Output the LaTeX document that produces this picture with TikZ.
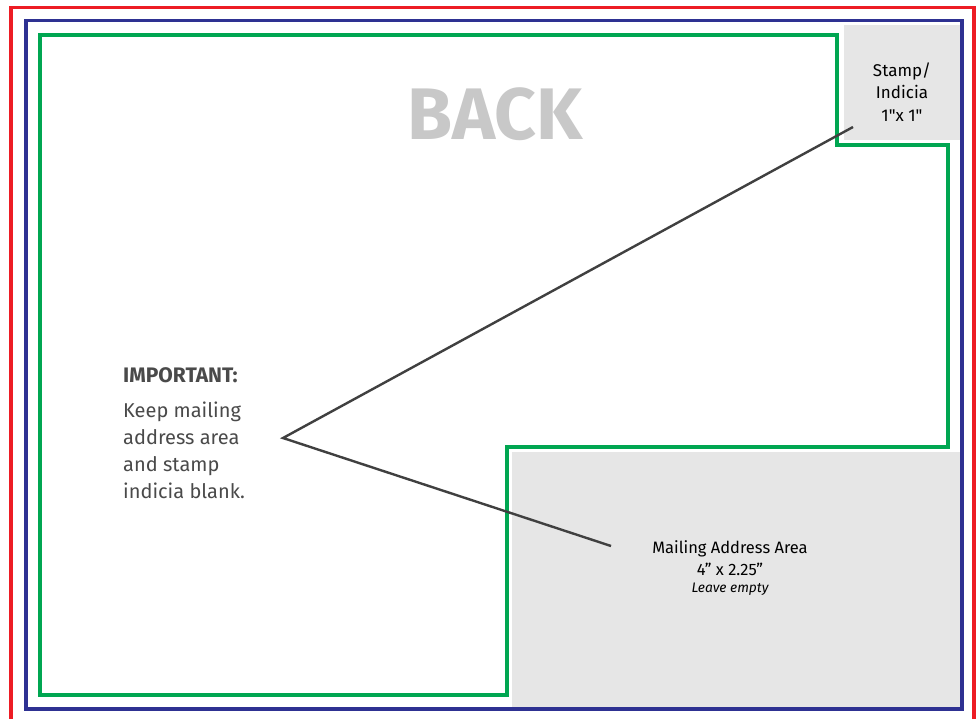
\documentclass[tikz,border=0pt]{standalone}
\usepackage{fontspec}
\setmainfont{Fira Sans}
\definecolor{cutred}{HTML}{ED1C24}
\definecolor{trimblue}{HTML}{2E3192}
\definecolor{safegreen}{HTML}{00A651}
\definecolor{areagray}{HTML}{E6E6E6}
\definecolor{backgray}{HTML}{C8C8C8}
\definecolor{txtgray}{HTML}{4A4A4A}
\definecolor{linegray}{HTML}{404040}
\begin{document}
\begin{tikzpicture}[x=1pt,y=-1pt,
  frame/.style={line width=3.2pt},
  area/.style={fill=areagray,draw=none},
  pointer/.style={draw=linegray,line width=2.4pt},
  label/.style={inner sep=0pt,align=center,text=black}]
\useasboundingbox (0,0) rectangle (979,719);
\fill[white] (0,0) rectangle (979,719);
% grey areas
\path[area] (844,25) rectangle (960,140);
\path[area] (512,452) rectangle (960,708);
% frames
\draw[frame,cutred] (11,725) -- (11,7.5) -- (974,7.5) -- (974,725);
\draw[frame,trimblue] (26,20.5) rectangle (962,709);
\draw[frame,safegreen] (40,35) -- (837,35) -- (837,145) -- (948,145) -- (948,447) -- (507,447) -- (507,695) -- (40,695) -- cycle;
% texts
\node[label,text=backgray,font=\fontsize{73}{73}\selectfont\bfseries] (back) at (495,114) {BACK};
\node[label,font=\fontsize{17}{22.5}\selectfont] (stamp) at (902,92) {Stamp/\\Indicia\\1\textquotedbl x 1\textquotedbl};
\node[label,anchor=north west,align=left,text=txtgray,font=\fontsize{21}{22}\selectfont\bfseries] (imp) at (123,367) {IMPORTANT:};
\node[label,anchor=north west,align=left,text=txtgray,font=\fontsize{20}{27}\selectfont] (keep) at (123,402) {Keep mailing\\address area\\and stamp\\indicia blank.};
\node[label,font=\fontsize{16.5}{22}\selectfont] (mail) at (730,558) {Mailing Address Area\\4” x 2.25”};
\node[label,font=\fontsize{13.8}{15}\selectfont\itshape] (leave) at (730,589) {Leave empty};
% pointers
\coordinate (tip) at (283,438);
\coordinate (stampend) at (853,127);
\coordinate (mailend) at (611,546);
\draw[pointer] (stampend) -- (tip) -- (mailend);
\end{tikzpicture}
\end{document}
